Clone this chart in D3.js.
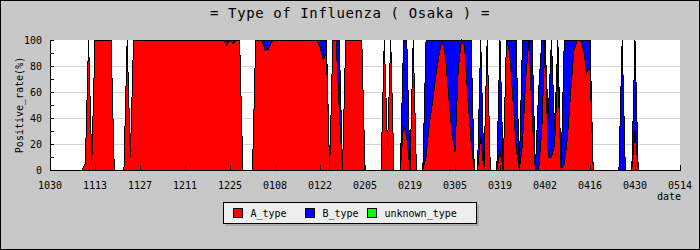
<!DOCTYPE html>
<html>
<head>
<meta charset="utf-8">
<title>Type of Influenza ( Osaka )</title>
<script src="https://d3js.org/d3.v7.min.js"></script>
<style>
  body { margin: 0; background: #fff; }
  svg { display: block; }
  text { font-family: "DejaVu Sans Mono", monospace; fill: #000; }
</style>
</head>
<body>
<svg id="chart" width="700" height="250"></svg>
<script>
// one value per day, day 0 is 10/30, a tick label every 14 days
var tickLabels = ["1030", "1113", "1127", "1211", "1225", "0108", "0122", "0205",
  "0219", "0305", "0319", "0402", "0416", "0430", "0514"];

// positive rate (%) of A type, one row = two weeks
var aType = [
  0, 0, 0, 0, 0, 0, 0, 0, 0, 0, 0, 5, 100, 5,
  100, 100, 100, 100, 100, 100, 0, 0, 0, 0, 100, 10, 100, 100,
  100, 100, 100, 100, 100, 100, 100, 100, 100, 100, 100, 100, 100, 100,
  100, 100, 100, 100, 100, 100, 100, 100, 100, 100, 100, 100, 100, 96,
  100, 97, 100, 100, 0, 0, 0, 0, 100, 100, 99, 92, 93, 99,
  100, 100, 100, 100, 100, 100, 100, 100, 100, 100, 100, 100, 100, 100,
  95, 85, 90, 0, 100, 100, 45, 0, 100, 100, 100, 100, 100, 100,
  0, 0, 0, 0, 0, 0, 100, 18, 100, 0, 0, 0, 35, 25,
  0, 100, 0, 0, 0, 10, 35, 52, 72, 88, 100, 88, 58, 29,
  14, 77, 100, 95, 55, 22, 0, 0, 25, 0, 100, 0, 0, 0,
  15, 0, 100, 90, 55, 18, 0, 20, 70, 100, 40, 0, 0, 30,
  100, 10, 10, 20, 75, 0, 5, 25, 60, 92, 100, 100, 92, 75,
  78, 0, 0, 0, 0, 0, 0, 0, 0, 0, 0, 0, 0, 0,
  30, 0, 0, 0, 0, 0, 0, 0, 0, 0, 0, 0, 0, 0,
  0
];

// positive rate (%) of B type
var bType = [
  0, 0, 0, 0, 0, 0, 0, 0, 0, 0, 0, 0, 0, 0,
  0, 0, 0, 0, 0, 0, 0, 0, 0, 0, 0, 0, 0, 0,
  0, 0, 0, 0, 0, 0, 0, 0, 0, 0, 0, 0, 0, 0,
  0, 0, 0, 0, 0, 0, 0, 0, 0, 0, 0, 0, 0, 4,
  0, 3, 0, 0, 0, 0, 0, 0, 0, 0, 1, 8, 7, 1,
  0, 0, 0, 0, 0, 0, 0, 0, 0, 0, 0, 0, 0, 0,
  5, 15, 10, 0, 0, 0, 55, 0, 0, 0, 0, 0, 0, 0,
  0, 0, 0, 0, 0, 0, 0, 0, 0, 0, 0, 0, 65, 75,
  0, 0, 0, 0, 0, 90, 65, 48, 28, 12, 0, 12, 42, 71,
  86, 23, 0, 5, 45, 78, 0, 0, 75, 0, 0, 0, 0, 0,
  85, 0, 0, 10, 45, 82, 0, 80, 30, 0, 60, 0, 60, 70,
  0, 30, 90, 10, 25, 0, 95, 75, 40, 8, 0, 0, 8, 25,
  22, 0, 0, 0, 0, 0, 0, 0, 0, 0, 100, 0, 0, 0,
  70, 0, 0, 0, 0, 0, 0, 0, 0, 0, 0, 0, 0, 0,
  0
];

// no unknown type was reported (missing days count as 0)
var unknownType = [];

var seriesNames = ["A_type", "B_type", "unknown_type"];
var seriesColors = ["#ff0000", "#0000ff", "#00ff00"];
var yTicks = [0, 20, 40, 60, 80, 100];

var svg = d3.select("#chart");
var W = 700, H = 250;
// plot box (window.top is taken, so prefix them)
var pLeft = 50, pRight = 680, pTop = 40, pBottom = 170;

// background + frame
svg.append("rect").attr("x", 0.5).attr("y", 0.5).attr("width", W - 1).attr("height", H - 1)
  .attr("fill", "#c8c8c8").attr("stroke", "#000");

svg.append("text").attr("x", W / 2).attr("y", 18).attr("text-anchor", "middle")
  .style("font-size", "14px").style("letter-spacing", "0.6px")
  .text("= Type of Influenza ( Osaka ) =");

var rows = aType.map(function(a, i) {
  return { day: i, A_type: a, B_type: bType[i], unknown_type: unknownType[i] || 0 };
});
var layers = d3.stack().keys(seriesNames)(rows);

var x = d3.scaleLinear().domain([0, (tickLabels.length - 1) * 14]).range([pLeft, pRight]);
var y = d3.scaleLinear().domain([0, 100]).range([pBottom, pTop]);

// plot area
svg.append("rect").attr("x", pLeft).attr("y", pTop).attr("width", pRight - pLeft).attr("height", pBottom - pTop)
  .attr("fill", "#fff");

svg.append("g").selectAll("line").data(yTicks.slice(1, -1)).join("line")
  .attr("x1", pLeft).attr("x2", pRight)
  .attr("y1", function(d) { return Math.round(y(d)) + 0.5; })
  .attr("y2", function(d) { return Math.round(y(d)) + 0.5; })
  .attr("stroke", "#d4d4d4");

var area = d3.area()
  .x(function(d) { return x(d.data.day); })
  .y0(function(d) { return y(d[0]); })
  .y1(function(d) { return y(d[1]); });

svg.append("g").selectAll("path").data(layers).join("path")
  .attr("d", area)
  .attr("fill", function(d, i) { return seriesColors[i]; })
  .attr("stroke", "#000")
  .attr("stroke-width", 1)
  .attr("shape-rendering", "crispEdges");

// axes: only left and bottom lines, ticks point inward
var axes = svg.append("g").attr("shape-rendering", "crispEdges");
axes.append("line").attr("x1", pLeft + 0.5).attr("x2", pLeft + 0.5).attr("y1", pTop).attr("y2", pBottom + 1)
  .attr("stroke", "#000");
axes.append("line").attr("x1", pLeft).attr("x2", pRight + 1).attr("y1", pBottom + 0.5).attr("y2", pBottom + 0.5)
  .attr("stroke", "#000");

axes.selectAll(".yt").data(d3.range(0, 101, 10)).join("line").attr("class", "yt")
  .attr("x1", pLeft).attr("x2", pLeft + 4)
  .attr("y1", function(d) { return Math.round(y(d)) + 0.5; })
  .attr("y2", function(d) { return Math.round(y(d)) + 0.5; })
  .attr("stroke", "#000");

axes.selectAll(".xt").data(tickLabels).join("line").attr("class", "xt")
  .attr("x1", function(d, i) { return Math.round(x(i * 14)) + 0.5; })
  .attr("x2", function(d, i) { return Math.round(x(i * 14)) + 0.5; })
  .attr("y1", pBottom - 5).attr("y2", pBottom)
  .attr("stroke", "#000");

svg.append("g").selectAll("text").data(yTicks).join("text")
  .attr("x", 42).attr("y", function(d) { return y(d); }).attr("dy", "0.35em")
  .attr("text-anchor", "end").style("font-size", "10px")
  .text(function(d) { return d; });

svg.append("g").selectAll("text").data(tickLabels).join("text")
  .attr("x", function(d, i) { return x(i * 14); }).attr("y", 189)
  .attr("text-anchor", "middle").style("font-size", "10px")
  .text(function(d) { return d; });

svg.append("text").attr("transform", "translate(23," + ((pTop + pBottom) / 2) + ") rotate(-90)")
  .attr("text-anchor", "middle").style("font-size", "10px")
  .text("Positive_rate(%)");

svg.append("text").attr("x", 681).attr("y", 200).attr("text-anchor", "end")
  .style("font-size", "10px").text("date");

// legend
var lg = svg.append("g").attr("shape-rendering", "crispEdges");
lg.append("rect").attr("x", 225.5).attr("y", 204.5).attr("width", 253).attr("height", 21).attr("fill", "#ababab");
lg.append("rect").attr("x", 223.5).attr("y", 202.5).attr("width", 253).attr("height", 21)
  .attr("fill", "#eeeeee").attr("stroke", "#000");
var legendX = [233.5, 305.5, 367.5];
seriesNames.forEach(function(name, i) {
  lg.append("rect").attr("x", legendX[i]).attr("y", 208.5).attr("width", 9).attr("height", 9)
    .attr("fill", seriesColors[i]).attr("stroke", "#000");
  lg.append("text").attr("x", legendX[i] + 17).attr("y", 216.5)
    .style("font-size", "10px").text(name);
});
</script>
</body>
</html>
